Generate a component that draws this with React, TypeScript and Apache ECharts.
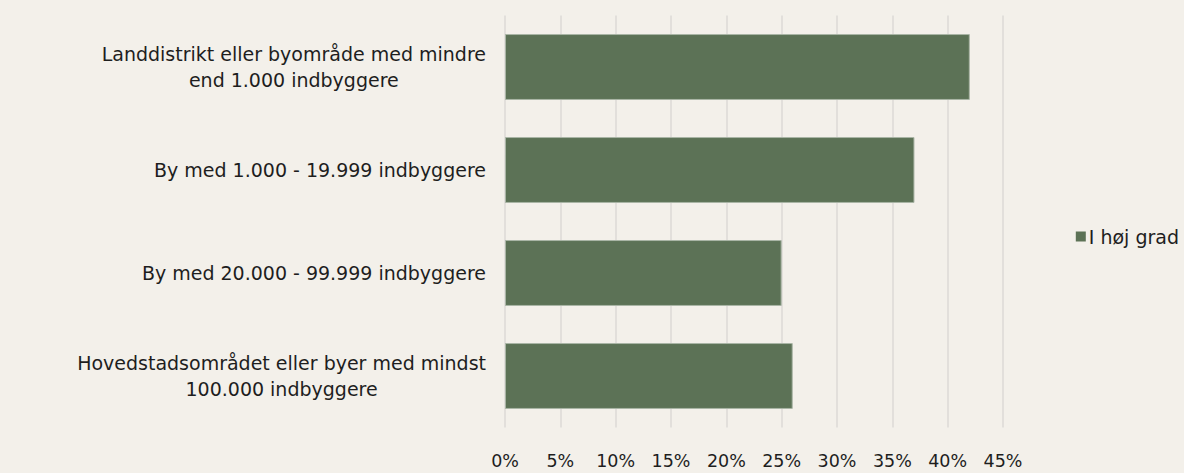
import React, { useEffect, useRef } from "react";
import * as echarts from "echarts";

const categories = [
  "Hovedstadsområdet eller byer med mindst\n100.000 indbyggere",
  "By med 20.000 - 99.999 indbyggere",
  "By med 1.000 - 19.999 indbyggere",
  "Landdistrikt eller byområde med mindre\nend 1.000 indbyggere",
];
const seriesName = "I høj grad";
const values = [26, 25, 37, 42];
const axisMax = 45;
const axisInterval = 5;

const FONT = "'DejaVu Sans', sans-serif";
const BG = "#f3f0ea";
const BAR = "#5c7256";
const TXT = "#1e1e1e";

export default function App() {
  const ref = useRef<HTMLDivElement>(null);
  useEffect(() => {
    document.body.style.margin = "0";
    const chart = echarts.init(ref.current!, null, { renderer: "svg" });
    chart.setOption({
      animation: false,
      backgroundColor: BG,
      textStyle: { fontFamily: FONT },
      grid: { left: 505, right: 181, top: 15.5, bottom: 45.5, containLabel: false },
      legend: {
        data: [seriesName],
        right: 0,
        top: 222,
        orient: "vertical",
        icon: "rect",
        itemWidth: 10,
        itemHeight: 10,
        itemGap: 4,
        itemStyle: { borderWidth: 0 },
        textStyle: { fontFamily: FONT, fontSize: 19, color: TXT, padding: [0, 0, 0, -2] },
      },
      xAxis: {
        type: "value",
        min: 0,
        max: axisMax,
        interval: axisInterval,
        axisLine: { show: false },
        axisTick: { show: false },
        splitLine: { show: true, lineStyle: { color: "#dcdad6", width: 1.5 } },
        axisLabel: {
          formatter: (v: number) => v + "%",
          fontFamily: FONT,
          fontSize: 17.5,
          color: TXT,
          margin: 24,
        },
      },
      yAxis: {
        type: "category",
        data: categories,
        axisLine: { show: false },
        axisTick: { show: false },
        axisLabel: {
          margin: 19,
          formatter: (v: string) =>
            v
              .split("\n")
              .map((l) => "{c|" + l + "}")
              .join("\n"),
          rich: {
            c: {
              align: "center",
              fontFamily: FONT,
              fontSize: 19,
              color: TXT,
              lineHeight: 26,
            },
          },
        },
      },
      series: [
        {
          name: seriesName,
          type: "bar",
          data: values,
          barCategoryGap: "36%",
          itemStyle: { color: BAR, borderColor: "#aab5a6", borderWidth: 1 },
        },
      ],
    });
    return () => chart.dispose();
  }, []);
  return (
    <div
      ref={ref}
      style={{ position: "absolute", left: 0, top: 0, width: 1184, height: 473 }}
    />
  );
}
